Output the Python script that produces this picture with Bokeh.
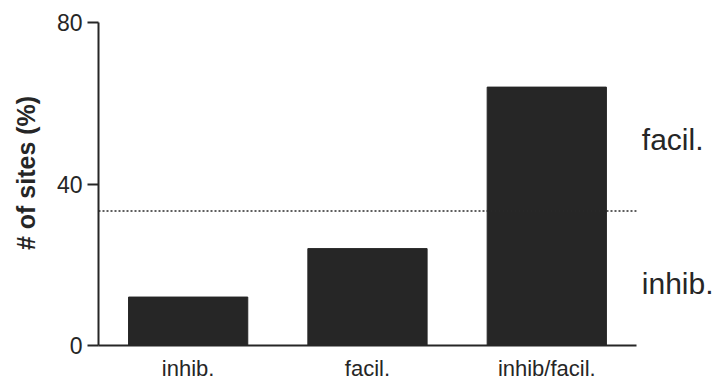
from bokeh.plotting import figure
from bokeh.models import Range1d, FixedTicker, ColumnDataSource
from bokeh.core.properties import value
from bokeh.embed import file_html
from bokeh.resources import INLINE

# Share of sites per response type (%)
categories = ["inhib.", "facil.", "inhib/facil."]
percent_sites = [12, 24, 64]
chance_level = 33.3
y_ticks = [0, 40, 80]
side_labels = ["facil.", "inhib."]
side_label_y = [51.0, 15.4]

FONT = "Liberation Sans"
INK = "#262626"

n = len(categories)
x_pos = [i + 0.5 for i in range(n)]

p = figure(
    x_range=Range1d(0, 3.452),
    y_range=Range1d(0, 85.45),
    width=717, height=383,
    output_backend="svg", toolbar_location=None,
    min_border_left=98, min_border_right=0,
    min_border_top=0, min_border_bottom=38,
)
p.outline_line_color = None
p.grid.visible = False
p.background_fill_color = "white"
p.border_fill_color = "white"

src = ColumnDataSource(dict(x=x_pos, val=percent_sites))
p.vbar(x="x", top="val", width=0.665, source=src,
       fill_color=INK, line_color=INK)

# chance level across the category span
p.line([0, n], [chance_level, chance_level],
       line_color="#2a2a2a", line_width=1.4, line_dash="2 2")

# y axis
ya = p.yaxis[0]
ya.ticker = FixedTicker(ticks=y_ticks)
ya.bounds = (y_ticks[0], y_ticks[-1])
ya.axis_label = "# of sites (%)"
ya.axis_label_text_font = FONT
ya.axis_label_text_font_style = "bold"
ya.axis_label_text_font_size = "25px"
ya.axis_label_text_color = INK
ya.axis_label_standoff = 14
ya.major_label_text_font = FONT
ya.major_label_text_font_size = "23px"
ya.major_label_text_color = INK
ya.major_label_standoff = 5
ya.axis_line_width = 2
ya.axis_line_color = INK
ya.major_tick_line_width = 2
ya.major_tick_line_color = INK
ya.major_tick_out = 11
ya.major_tick_in = 0
ya.minor_tick_line_color = None

# x axis
xa = p.xaxis[0]
xa.ticker = FixedTicker(ticks=x_pos)
xa.major_label_overrides = {x: c for x, c in zip(x_pos, categories)}
xa.bounds = (0, n)
xa.major_label_text_font = FONT
xa.major_label_text_font_size = "22px"
xa.major_label_text_color = INK
xa.axis_line_width = 2
xa.axis_line_color = INK
xa.major_tick_line_color = None
xa.minor_tick_line_color = None
xa.major_label_standoff = 4

# labels to the right of the bars
p.text(x=[n + 0.03] * len(side_labels), y=side_label_y, text=side_labels,
       text_font=value(FONT), text_font_size="30px", text_color=INK,
       text_baseline="alphabetic", text_align="left")

open("out.html", "w").write(file_html(p, INLINE))
